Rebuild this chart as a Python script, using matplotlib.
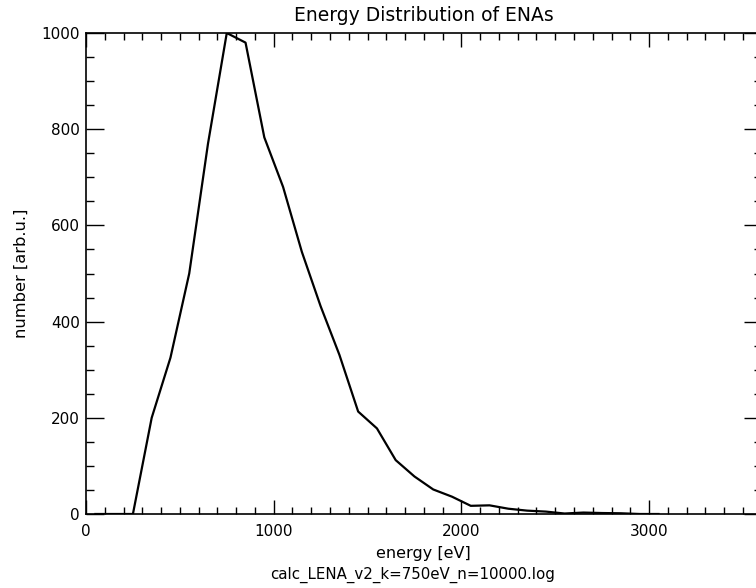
import matplotlib
matplotlib.use('Agg')
import matplotlib.pyplot as plt
from matplotlib.ticker import MultipleLocator

# energy bins [eV] and counts (normalised, max = 1000)
energy = [50, 150, 250, 350, 450, 550, 650, 750, 850, 950, 1050, 1150, 1250,
          1350, 1450, 1550, 1650, 1750, 1850, 1950, 2050, 2150, 2250, 2350,
          2450, 2550, 2650, 2750, 2850, 2950, 3050]
counts = [0, 0, 0, 200, 325, 500, 770, 1000, 980, 783, 680, 545, 432,
          331, 213, 178, 112, 78, 51, 36, 17, 18, 11, 7,
          5, 1, 3, 2, 1.5, 0, 0]

plt.rcParams['font.family'] = ['DejaVu Sans']

fig = plt.figure(figsize=(7.56, 5.88), dpi=100)
ax = fig.add_axes([86/756, 74/588, 675.7/756, 481/588])

ax.plot(energy, counts, color='black', lw=1.6)

ax.set_xlim(0, 3600)
ax.set_ylim(0, 1000)
ax.xaxis.set_major_locator(MultipleLocator(1000))
ax.xaxis.set_minor_locator(MultipleLocator(100))
ax.yaxis.set_major_locator(MultipleLocator(200))
ax.yaxis.set_minor_locator(MultipleLocator(50))
ax.tick_params(which='both', direction='in', top=True, right=True,
               labelsize=11, color='black')
ax.tick_params(axis='x', which='major', length=10, width=1, pad=7)
ax.tick_params(axis='x', which='minor', length=5, width=1)
ax.tick_params(axis='y', which='major', length=13, width=1, pad=4.5)
ax.tick_params(axis='y', which='minor', length=6, width=1)
for s in ax.spines.values():
    s.set_linewidth(1.2)

ax.set_title('Energy Distribution of ENAs', fontsize=13.5, pad=8.5)
ax.set_ylabel('number [arb.u.]', fontsize=11.7, labelpad=9)
ax.set_xlabel('energy [eV]', fontsize=11.5, labelpad=5)
fig.text(413/756, 1 - 575/588, 'calc_LENA_v2_k=750eV_n=10000.log',
         fontsize=10.8, ha='center', va='center')

fig.savefig('out.png', dpi=100)
